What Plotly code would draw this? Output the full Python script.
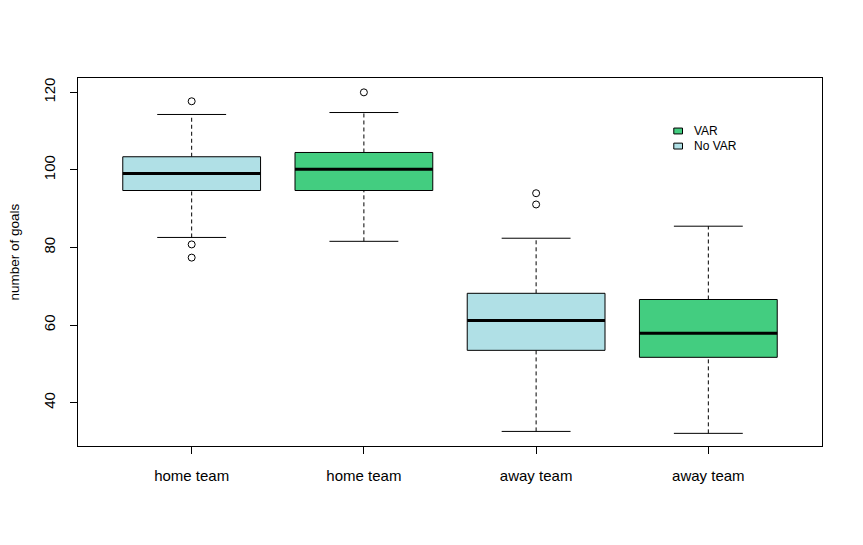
import plotly.graph_objects as go

# ---- data ----
categories = ["home team", "home team", "away team", "away team"]
groups = ["No VAR", "VAR", "No VAR", "VAR"]
lower_whisker = [82.6, 81.6, 32.6, 32.1]
q1 = [94.7, 94.7, 53.5, 51.7]
median = [99.1, 100.2, 61.2, 57.9]
q3 = [103.4, 104.5, 68.2, 66.6]
upper_whisker = [114.3, 114.8, 82.4, 85.5]
outliers = [[117.7, 80.8, 77.4], [120.0], [94.0, 91.1], []]
y_ticks = [40, 60, 80, 100, 120]

colors = {"VAR": "#43CD80", "No VAR": "#B0E0E6"}
FONT = "Liberation Sans, Arial, sans-serif"

positions = list(range(1, len(categories) + 1))
box_half = 0.4
cap_half = 0.2

fig = go.Figure()
shapes = []
for i, x in enumerate(positions):
    col = colors[groups[i]]
    # whiskers (dashed)
    shapes.append(dict(type="line", xref="x", yref="y", x0=x, x1=x, y0=q3[i], y1=upper_whisker[i],
                       line=dict(color="black", width=1, dash="4px,3px")))
    shapes.append(dict(type="line", xref="x", yref="y", x0=x, x1=x, y0=lower_whisker[i], y1=q1[i],
                       line=dict(color="black", width=1, dash="4px,3px")))
    # caps
    for yv in (upper_whisker[i], lower_whisker[i]):
        shapes.append(dict(type="line", xref="x", yref="y", x0=x - cap_half, x1=x + cap_half, y0=yv, y1=yv,
                           line=dict(color="black", width=1)))
    # box
    shapes.append(dict(type="rect", xref="x", yref="y", x0=x - box_half, x1=x + box_half, y0=q1[i], y1=q3[i],
                       fillcolor=col, line=dict(color="black", width=1)))
    # median
    shapes.append(dict(type="line", xref="x", yref="y", x0=x - box_half, x1=x + box_half, y0=median[i], y1=median[i],
                       line=dict(color="black", width=3)))

# outliers
ox, oy = [], []
for i, x in enumerate(positions):
    for v in outliers[i]:
        ox.append(x)
        oy.append(v)
fig.add_trace(go.Scatter(x=ox, y=oy, mode="markers", showlegend=False, hoverinfo="y",
                         marker=dict(symbol="circle-open", size=7, color="black", line=dict(width=1))))

# legend (R-style, drawn in paper coordinates)
legend_items = ["VAR", "No VAR"]
leg_y = [0.856, 0.815]
for name, yy in zip(legend_items, leg_y):
    shapes.append(dict(type="rect", xref="paper", yref="paper", x0=0.8008, x1=0.8125,
                       y0=yy - 0.008, y1=yy + 0.008, fillcolor=colors[name],
                       line=dict(color="black", width=1)))
annotations = [dict(text=name, xref="paper", yref="paper", x=0.8255, y=yy, xanchor="left", yanchor="middle",
                    showarrow=False, font=dict(family=FONT, size=12, color="black"))
               for name, yy in zip(legend_items, leg_y)]

# y-axis title
annotations.append(dict(text="number of goals", xref="paper", yref="paper", x=-0.086, y=0.526,
                        textangle=-90, showarrow=False, xanchor="center", yanchor="middle",
                        font=dict(family=FONT, size=13.5, color="black")))

fig.update_layout(
    width=863, height=545,
    margin=dict(l=78, r=41, t=78, b=99),
    plot_bgcolor="white", paper_bgcolor="white",
    shapes=shapes, annotations=annotations,
    showlegend=False,
    font=dict(family=FONT, size=15, color="black"),
    xaxis=dict(range=[0.34, 4.66], tickvals=positions, ticktext=categories,
               showgrid=False, zeroline=False, showline=True, mirror=True, linecolor="black", linewidth=1,
               ticks="outside", ticklen=7, tickcolor="black", tickwidth=1, ticklabelstandoff=9,
               tickfont=dict(family=FONT, size=15)),
    yaxis=dict(range=[28.84, 123.7], tickvals=y_ticks, showgrid=False, zeroline=False,
               showline=True, mirror=True, linecolor="black", linewidth=1,
               ticks="outside", ticklen=7, tickcolor="black", tickwidth=1, tickangle=-90,
               ticklabelstandoff=9, tickfont=dict(family=FONT, size=15)),
)

fig.write_html("out.html")
